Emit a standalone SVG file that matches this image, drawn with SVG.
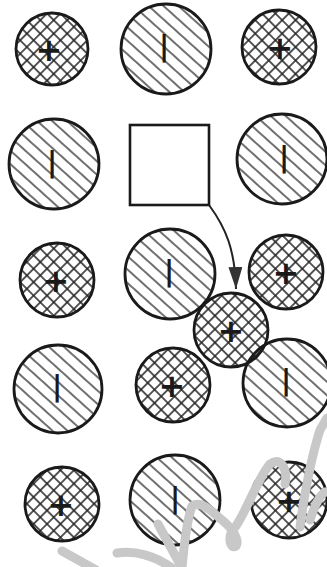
<svg xmlns="http://www.w3.org/2000/svg" width="327" height="567" viewBox="0 0 327 567">
<defs>
<pattern id="hatch" patternUnits="userSpaceOnUse" width="10" height="10" patternTransform="rotate(42)">
<line x1="0" y1="5" x2="10" y2="5" stroke="#222" stroke-width="1.3"/>
</pattern>
<pattern id="cross" patternUnits="userSpaceOnUse" width="9.5" height="9.5" patternTransform="rotate(45)">
<line x1="0" y1="4.75" x2="9.5" y2="4.75" stroke="#222" stroke-width="1.5"/>
<line x1="4.75" y1="0" x2="4.75" y2="9.5" stroke="#222" stroke-width="1.5"/>
</pattern>
<marker id="arr" viewBox="0 0 22 14" refX="22" refY="7" markerWidth="22" markerHeight="14" markerUnits="userSpaceOnUse" orient="auto">
<path d="M0,0 L22,7 L0,14 z" fill="#333"/>
</marker>
<style>
.an{fill:url(#hatch);stroke:#1a1a1a;stroke-width:2.8}
.ca{fill:url(#cross);stroke:#1a1a1a;stroke-width:2.8}
.plus{font-family:"DejaVu Sans",sans-serif;font-weight:bold;font-size:32px;fill:#1a1a1a;text-anchor:middle}
.minus{font-family:"DejaVu Sans",sans-serif;font-weight:bold;font-size:28px;fill:#1a1a1a;text-anchor:middle}
.wm{fill:none;stroke:#c8c8c8;stroke-width:9;stroke-linecap:round;stroke-linejoin:round}
</style>
</defs>
<rect width="327" height="567" fill="#fff"/>

<g id="c11"><circle class="ca" cx="52" cy="49" r="36"/><text class="plus" x="49" y="61">+</text></g>
<g id="a12"><circle class="an" cx="166" cy="49" r="45"/><text class="minus" x="164" y="56">|</text></g>
<g id="c13"><circle class="ca" cx="279" cy="47" r="37"/><text class="plus" x="280" y="59">+</text></g>

<g id="a21"><circle class="an" cx="54" cy="164" r="45"/><text class="minus" x="52" y="172">|</text></g>
<g id="vacancy"><rect x="130" y="125" width="79" height="80" fill="#fff" stroke="#1a1a1a" stroke-width="2.6"/></g>
<g id="a23"><circle class="an" cx="282" cy="159" r="45"/><text class="minus" x="284" y="167">|</text></g>

<g id="c31"><circle class="ca" cx="57" cy="280" r="37"/><text class="plus" x="56" y="292">+</text></g>
<g id="a32"><circle class="an" cx="170" cy="274" r="45"/><text class="minus" x="169" y="281">|</text></g>
<g id="c33"><circle class="ca" cx="286" cy="272" r="37"/><text class="plus" x="286" y="284">+</text></g>

<g id="interstitial"><circle class="ca" cx="231" cy="330" r="37"/><text class="plus" x="231" y="342">+</text></g>

<g id="a41"><circle class="an" cx="58" cy="389" r="44"/><text class="minus" x="57" y="396">|</text></g>
<g id="c42"><circle class="ca" cx="173" cy="385" r="37"/><text class="plus" x="172" y="397">+</text></g>
<g id="a43"><circle class="an" cx="287" cy="383" r="44"/><text class="minus" x="286" y="390">|</text></g>

<g id="c51"><circle class="ca" cx="62" cy="504" r="37"/><text class="plus" x="61" y="516">+</text></g>
<g id="a52"><circle class="an" cx="175" cy="500" r="45"/><text class="minus" x="175" y="508">|</text></g>
<g id="c53"><circle class="ca" cx="289" cy="500" r="38"/><text class="plus" x="289" y="512">+</text></g>

<g id="connectors">
<path d="M209,205 C226,228 235,250 236,289" fill="none" stroke="#222" stroke-width="2" marker-end="url(#arr)"/>
</g>

<g id="watermark">
<path class="wm" d="M62,551 L96,570"/>
<path class="wm" d="M117,553 C135,550 155,556 172,568"/>
<path class="wm" d="M158,524 L182,568 C184,545 187,520 192,506 C202,500 212,512 222,520 C232,528 240,540 236,546 C230,550 226,536 236,526 C248,508 258,478 270,464 C280,456 288,468 285,484"/>
<path class="wm" d="M300,527 C305,490 312,455 320,430 L327,418"/>
<path class="wm" d="M310,520 C316,500 324,490 327,492"/>
</g>
</svg>
